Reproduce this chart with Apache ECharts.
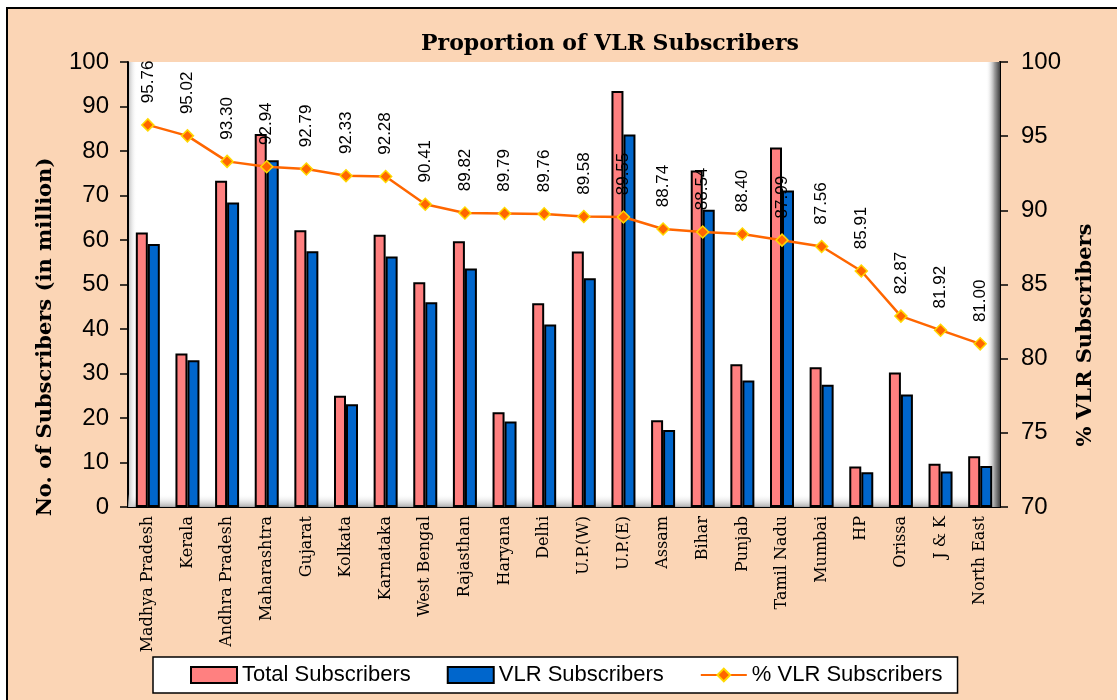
<!DOCTYPE html>
<html>
<head>
<meta charset="utf-8">
<script src="https://cdn.jsdelivr.net/npm/echarts@6/dist/echarts.min.js"></script>
<style>
  html, body { margin: 0; padding: 0; background: #fff; }
  #chart { width: 1117px; height: 700px; }
</style>
</head>
<body>
<div id="chart"></div>
<script>
// circles / LSAs
const circles = ["Madhya Pradesh", "Kerala", "Andhra Pradesh", "Maharashtra", "Gujarat", "Kolkata",
	"Karnataka", "West Bengal", "Rajasthan", "Haryana", "Delhi", "U.P.(W)", "U.P.(E)", "Assam",
	"Bihar", "Punjab", "Tamil Nadu", "Mumbai", "HP", "Orissa", "J & K", "North East"];
// million subscribers
const totalSubs = [61.7, 34.5, 73.3, 83.8, 62.2, 25.0, 61.2, 50.5, 59.7, 21.3, 45.8, 57.4,
	93.5, 19.5, 75.6, 32.1, 80.8, 31.4, 9.1, 30.2, 9.7, 11.4];
const vlrSubs = [59.1, 33.0, 68.4, 77.9, 57.5, 23.1, 56.3, 46.0, 53.6, 19.2, 41.0, 51.4,
	83.7, 17.3, 66.8, 28.4, 71.1, 27.5, 7.8, 25.3, 8.0, 9.2];
// % VLR
const vlrPct = [95.76, 95.02, 93.30, 92.94, 92.79, 92.33, 92.28, 90.41, 89.82, 89.79, 89.76,
	89.58, 89.55, 88.74, 88.54, 88.40, 87.99, 87.56, 85.91, 82.87, 81.92, 81.00];

const seriesNames = ["Total Subscribers", "VLR Subscribers", "% VLR Subscribers"];

let myChart = echarts.init(document.getElementById('chart'));

const blackAxis = { lineStyle: { color: '#000', width: 2 } };

const option = {
	backgroundColor: '#fff',
	animation: false,
	graphic: [
		// peach panel with black frame
		{
			type: 'rect', z: -100,
			shape: { x: 7, y: 8, width: 1130, height: 720 },
			style: { fill: '#FBD5B5', stroke: '#000', lineWidth: 2 }
		},
		// 3D floor
		{
			type: 'rect', z: 1, silent: true,
			shape: { x: 128, y: 494, width: 872, height: 13 },
			style: {
				fill: new echarts.graphic.LinearGradient(0, 0, 0, 1, [
					{ offset: 0, color: 'rgba(255,255,255,0)' },
					{ offset: 1, color: '#b0b0b0' }
				])
			}
		},
		// left wall
		{
			type: 'rect', z: 1, silent: true,
			shape: { x: 129, y: 62, width: 8, height: 445 },
			style: {
				fill: new echarts.graphic.LinearGradient(0, 0, 1, 0, [
					{ offset: 0, color: '#c8c8c8' },
					{ offset: 1, color: 'rgba(255,255,255,0)' }
				])
			}
		},
		// right wall
		{
			type: 'rect', z: 1, silent: true,
			shape: { x: 986, y: 62, width: 14, height: 445 },
			style: {
				fill: new echarts.graphic.LinearGradient(0, 0, 1, 0, [
					{ offset: 0, color: 'rgba(255,255,255,0)' },
					{ offset: 0.6, color: '#a0a0a0' },
					{ offset: 1, color: '#404040' }
				])
			}
		},
		// axis titles
		{
			type: 'text', x: 46, y: 337, rotation: Math.PI / 2,
			style: {
				text: 'No. of Subscribers (in million)',
				font: 'bold 21px "DejaVu Serif"', fill: '#000',
				align: 'center', verticalAlign: 'middle'
			}
		},
		{
			type: 'text', x: 1086, y: 335, rotation: Math.PI / 2,
			style: {
				text: '% VLR Subscribers',
				font: 'bold 21px "DejaVu Serif"', fill: '#000',
				align: 'center', verticalAlign: 'middle'
			}
		}
	],
	title: {
		text: 'Proportion of VLR Subscribers',
		left: 605, top: 28, textAlign: 'center',
		textStyle: { fontFamily: 'DejaVu Serif', fontWeight: 'bold', fontSize: 22, color: '#000' }
	},
	legend: {
		data: [
			{ name: seriesNames[0], icon: 'rect' },
			{ name: seriesNames[1], icon: 'rect' },
			{ name: seriesNames[2] }
		],
		left: 153, top: 657,
		backgroundColor: '#fff',
		borderColor: '#000', borderWidth: 1.5,
		padding: [7, 15, 7, 37],
		itemWidth: 46, itemHeight: 16, itemGap: 36,
		textStyle: { fontFamily: 'Liberation Sans', fontSize: 22, color: '#000' }
	},
	grid: {
		left: 128, right: 117, top: 62, bottom: 193,
		show: true, backgroundColor: '#fff', borderWidth: 0
	},
	xAxis: {
		type: 'category',
		data: circles,
		axisLine: blackAxis,
		axisTick: { length: 6, lineStyle: { color: '#000', width: 1.5 } },
		axisLabel: {
			interval: 0, rotate: 90, margin: 9,
			fontFamily: 'DejaVu Serif', fontSize: 16, color: '#000'
		}
	},
	yAxis: [
		{
			type: 'value', min: 0, max: 100, interval: 10,
			axisLine: { show: true, lineStyle: { color: '#000', width: 2 } },
			axisTick: { show: true, length: 8, lineStyle: { color: '#000', width: 1.5 } },
			splitLine: { show: false },
			axisLabel: { margin: 19, fontFamily: 'Liberation Sans', fontSize: 24, color: '#000' }
		},
		{
			type: 'value', min: 70, max: 100, interval: 5, position: 'right',
			axisLine: { show: true, lineStyle: { color: '#000', width: 2 } },
			axisTick: { show: true, length: 8, lineStyle: { color: '#000', width: 1.5 } },
			splitLine: { show: false },
			axisLabel: { margin: 21, fontFamily: 'Liberation Sans', fontSize: 24, color: '#000' }
		}
	],
	series: [
		{
			name: seriesNames[0],
			type: 'bar',
			data: totalSubs,
			barWidth: 12,
			barGap: '0%',
			z: 3,
			itemStyle: { color: '#FF8080', borderColor: '#000', borderWidth: 2 }
		},
		{
			name: seriesNames[1],
			type: 'bar',
			data: vlrSubs,
			barWidth: 12,
			z: 3,
			itemStyle: { color: '#0066CC', borderColor: '#000', borderWidth: 2 }
		},
		{
			name: seriesNames[2],
			type: 'line',
			yAxisIndex: 1,
			data: vlrPct,
			z: 4,
			symbol: 'diamond',
			symbolSize: 12,
			lineStyle: { color: '#FF6600', width: 2.5 },
			itemStyle: { color: '#FF6600', borderColor: '#FFD700', borderWidth: 1.5 },
			label: {
				show: true,
				position: 'top',
				distance: 15,
				rotate: 90,
				align: 'left',
				verticalAlign: 'middle',
				fontFamily: 'Liberation Sans',
				fontSize: 17,
				color: '#000',
				formatter: function (p) { return p.value.toFixed(2); }
			}
		}
	]
};

myChart.setOption(option);
</script>
</body>
</html>
